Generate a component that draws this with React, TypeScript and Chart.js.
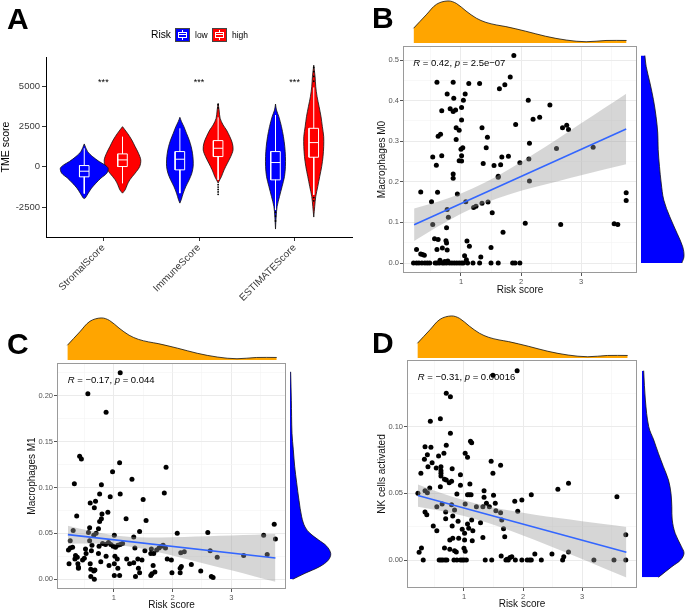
import React, { useEffect, useRef } from "react";
import { Chart, registerables } from "chart.js";

Chart.register(...registerables);

const FONT = "'Liberation Sans', Arial, Helvetica, sans-serif";
const BLUE = "#0000FF";
const RED = "#FF0000";
const ORANGE = "#FFA500";

/* ================= Panel A data ================= */
const tmeCategories = ["StromalScore", "ImmuneScore", "ESTIMATEScore"];
const tmeYTicks = [-2500, 0, 2500, 5000];
const tmeSig = ["***", "***", "***"];
const riskLevels = ["low", "high"];

// violin outlines: value (top -> bottom) and half-width (category units)
const stromalLowV = [1420, 947, 638, 329, 123, -82, -391, -700, -1008, -1317, -1626, -1934, -1960];
const stromalLowW = [0, 0.035, 0.087, 0.156, 0.215, 0.25, 0.236, 0.174, 0.122, 0.076, 0.042, 0.01, 0];
const stromalHighV = [2490, 2080, 1667, 1255, 844, 432, 21, -391, -803, -1111, -1420, -1626];
const stromalHighW = [0, 0.052, 0.097, 0.132, 0.167, 0.191, 0.18, 0.132, 0.076, 0.049, 0.028, 0];
const immuneLowV = [3066, 2799, 2490, 2079, 1667, 1255, 844, 432, 21, -391, -803, -1214, -1626, -2037, -2243];
const immuneLowW = [0, 0.017, 0.042, 0.069, 0.097, 0.118, 0.132, 0.139, 0.139, 0.125, 0.097, 0.0625, 0.035, 0.014, 0];
const immuneHighV = [3930, 3519, 3004, 2593, 2284, 1873, 1461, 1050, 638, 226, -185, -597, -803, -1000];
const immuneHighW = [0, 0.01, 0.021, 0.052, 0.087, 0.122, 0.149, 0.156, 0.132, 0.097, 0.0625, 0.035, 0.017, 0];
const estimateLowV = [3890, 3519, 3107, 2490, 1873, 1255, 638, 21, -597, -1214, -1832, -2449, -3066, -3848];
const estimateLowW = [0, 0.01, 0.035, 0.0625, 0.083, 0.097, 0.104, 0.104, 0.094, 0.069, 0.042, 0.017, 0.007, 0];
const estimateHighV = [6297, 5577, 4960, 4342, 3725, 3107, 2490, 1873, 1255, 638, 21, -597, -1214, -1832, -2449, -3107];
const estimateHighW = [0, 0.014, 0.021, 0.035, 0.056, 0.076, 0.09, 0.104, 0.104, 0.097, 0.083, 0.0625, 0.042, 0.021, 0.01, 0];

// boxplot stats per category (low / high)
const boxLowQ1 = [-617, -185, -803];
const boxLowMed = [-268, 473, 268];
const boxLowQ3 = [82, 947, 947];
const boxLowWhiskLo = [-1650, -1626, -2655];
const boxLowWhiskHi = [1150, 2387, 3210];
const boxHighQ1 = [21, 638, 597];
const boxHighMed = [432, 1152, 1502];
const boxHighQ3 = [803, 1626, 2387];
const boxHighWhiskLo = [-1008, -803, -1729];
const boxHighWhiskHi = [1873, 3066, 4918];
const outliersLow = [[], [], [-2800, -3050, -3350]];
const outliersHigh = [[], [3650, 3850, -1100, -1250, -1400, -1550, -1700], [5300, 5600, 5900, 6150, -1900, -2100]];

/* ================= Scatter panels data ================= */
const riskTicks = [1, 2, 3];
const riskMinor = [0.5, 1.5, 2.5, 3.5];
const riskMin = 0.035;
const riskMax = 3.93;

// marginal density of risk score (shared by B, C, D)
const riskDensX = [0.21, 0.42, 0.59, 0.78, 0.92, 1.08, 1.25, 1.41, 1.58, 1.74, 2.07, 2.4, 2.74, 3.07, 3.4, 3.74];
const riskDensY = [0.35, 0.67, 0.92, 1.0, 0.94, 0.76, 0.59, 0.49, 0.43, 0.39, 0.28, 0.16, 0.07, 0.03, 0.06, 0.06];

// regression fit + confidence band
const fitX = [0.22, 3.75];
const bandX = [0.22, 0.6, 1.0, 1.4, 1.8, 2.2, 2.6, 3.0, 3.4, 3.75];

// ---- B: Macrophages M0
const bYTicks = [0, 0.1, 0.2, 0.3, 0.4, 0.5];
const bYMinor = [0.05, 0.15, 0.25, 0.35, 0.45];
const bStats = ["0.42", "2.5e\u221207"];
const bFit = [0.094, 0.33];
const bBandLo = [0.054, 0.0885, 0.1215, 0.148, 0.169, 0.186, 0.201, 0.216, 0.231, 0.243];
const bBandHi = [0.134, 0.15, 0.171, 0.198, 0.231, 0.267, 0.305, 0.344, 0.383, 0.417];
const bDensV = [0.511, 0.484, 0.443, 0.402, 0.361, 0.32, 0.279, 0.238, 0.197, 0.155, 0.114, 0.073, 0.04, 0.016, 0];
const bDensW = [0.09, 0.12, 0.21, 0.29, 0.35, 0.39, 0.4, 0.43, 0.47, 0.53, 0.67, 0.84, 0.97, 1.0, 0.95];
const bPoints = [
  [1.88, 0.511], [0.6, 0.445], [0.87, 0.445], [1.13, 0.442], [1.31, 0.442], [1.82, 0.458], [1.73, 0.439],
  [1.64, 0.429], [0.77, 0.416], [1.07, 0.416], [0.88, 0.406], [1.04, 0.401], [2.12, 0.401], [2.48, 0.389],
  [1.01, 0.383], [0.68, 0.375], [0.82, 0.38], [0.87, 0.373], [0.91, 0.377], [2.2, 0.354], [2.31, 0.359],
  [1.01, 0.352], [1.91, 0.341], [2.76, 0.339], [2.69, 0.333], [2.79, 0.329], [1.35, 0.333], [0.92, 0.333],
  [0.97, 0.327], [0.62, 0.312], [0.66, 0.317], [1.44, 0.31], [0.92, 0.304], [2.14, 0.295], [3.2, 0.285],
  [2.59, 0.282], [1.03, 0.284], [1.0, 0.28], [1.42, 0.284], [0.53, 0.261], [0.68, 0.264], [1.01, 0.264],
  [1.68, 0.261], [1.79, 0.263], [2.13, 0.256], [0.97, 0.252], [1.01, 0.251], [0.59, 0.241], [1.37, 0.245],
  [1.55, 0.24], [1.66, 0.242], [1.98, 0.247], [0.87, 0.219], [0.87, 0.209], [1.62, 0.214], [1.62, 0.211],
  [2.14, 0.202], [0.33, 0.175], [0.61, 0.174], [0.94, 0.17], [3.75, 0.173], [3.75, 0.154], [0.51, 0.151],
  [1.08, 0.151], [1.35, 0.147], [1.45, 0.15], [1.25, 0.14], [1.21, 0.137], [0.77, 0.132], [1.52, 0.124],
  [0.79, 0.113], [0.53, 0.095], [2.07, 0.098], [2.66, 0.095], [3.55, 0.097], [3.61, 0.095], [0.76, 0.087],
  [1.7, 0.076], [0.56, 0.06], [0.62, 0.058], [0.75, 0.055], [0.76, 0.049], [1.1, 0.054], [1.14, 0.041],
  [1.5, 0.038], [0.26, 0.033], [0.6, 0.033], [0.69, 0.037], [0.77, 0.032], [0.36, 0.021], [0.39, 0.019],
  [0.33, 0.022], [1.06, 0.018], [1.33, 0.015], [1.09, 0.008], [0.65, 0.007], [0.73, 0.004], [0.78, 0.005],
  [0.21, 0], [0.26, 0], [0.3, 0], [0.35, 0], [0.4, 0], [0.44, 0], [0.48, 0], [0.57, 0], [0.6, 0], [0.64, 0],
  [0.69, 0], [0.72, 0], [0.76, 0], [0.81, 0], [0.85, 0], [0.89, 0], [0.93, 0], [0.97, 0], [1.01, 0], [1.04, 0],
  [1.11, 0], [1.2, 0], [1.31, 0], [1.5, 0], [1.62, 0], [1.86, 0], [1.9, 0], [1.98, 0],
];

// ---- C: Macrophages M1
const cYTicks = [0, 0.05, 0.1, 0.15, 0.2];
const cYMinor = [0.025, 0.075, 0.125, 0.175, 0.225];
const cStats = ["\u22120.17", "0.044"];
const cFit = [0.0486, 0.0232];
const cBandLo = [0.0388, 0.039, 0.038, 0.0344, 0.0289, 0.0227, 0.0162, 0.0097, 0.003, -0.0028];
const cBandHi = [0.0584, 0.0528, 0.048, 0.0458, 0.0456, 0.0461, 0.0468, 0.0476, 0.0484, 0.0492];
const cDensV = [0.226, 0.195, 0.159, 0.141, 0.123, 0.105, 0.086, 0.068, 0.057, 0.05, 0.043, 0.036, 0.028, 0.021, 0.014, 0.0065, 0];
const cDensW = [0.016, 0.033, 0.049, 0.082, 0.115, 0.164, 0.221, 0.287, 0.369, 0.492, 0.697, 0.902, 1.0, 0.943, 0.738, 0.369, 0.066];
const cPoints = [
  [1.11, 0.225], [0.56, 0.202], [0.87, 0.182], [0.42, 0.134], [0.45, 0.131], [1.1, 0.127], [1.89, 0.122],
  [0.98, 0.117], [1.31, 0.109], [0.33, 0.104], [0.79, 0.103], [1.86, 0.094], [0.76, 0.093], [1.11, 0.093],
  [0.94, 0.09], [1.5, 0.087], [0.69, 0.085], [0.6, 0.083], [0.67, 0.078], [0.9, 0.073], [0.8, 0.071],
  [0.37, 0.069], [1.21, 0.066], [0.79, 0.066], [0.76, 0.063], [1.55, 0.064], [0.74, 0.055], [0.59, 0.056],
  [3.73, 0.06], [0.31, 0.053], [1.44, 0.052], [2.6, 0.051], [0.57, 0.051], [2.08, 0.05], [3.55, 0.048],
  [1.01, 0.048], [1.34, 0.046], [3.75, 0.044], [0.26, 0.042], [0.59, 0.042], [0.66, 0.048], [0.7, 0.05],
  [0.63, 0.037], [0.75, 0.036], [0.81, 0.039], [0.86, 0.038], [0.91, 0.04], [0.95, 0.038], [0.99, 0.036],
  [1.03, 0.035], [1.07, 0.037], [1.11, 0.038], [1.15, 0.039], [1.64, 0.033], [1.68, 0.028], [1.73, 0.032],
  [1.77, 0.034], [1.81, 0.036], [1.84, 0.037], [1.88, 0.034], [0.26, 0.034], [0.23, 0.032], [0.3, 0.035],
  [0.52, 0.033], [0.62, 0.031], [2.64, 0.031], [2.2, 0.03], [2.14, 0.029], [1.36, 0.034], [1.53, 0.031],
  [1.63, 0.028], [0.35, 0.026], [0.53, 0.028], [0.74, 0.028], [0.87, 0.025], [1.02, 0.025], [1.06, 0.022],
  [1.22, 0.022], [1.41, 0.022], [3.21, 0.026], [3.61, 0.027], [2.76, 0.024], [0.34, 0.022], [0.38, 0.024],
  [0.47, 0.021], [0.5, 0.023], [1.91, 0.022], [1.98, 0.021], [1.48, 0.021], [0.24, 0.017], [0.39, 0.017],
  [0.6, 0.017], [0.78, 0.019], [0.92, 0.015], [1.01, 0.017], [1.07, 0.012], [1.27, 0.017], [2.32, 0.016],
  [1.34, 0.018], [0.4, 0.013], [0.4, 0.012], [0.61, 0.011], [0.66, 0.009], [0.68, 0.01], [1.67, 0.015],
  [2.13, 0.012], [2.15, 0.014], [1.42, 0.012], [2.48, 0.009], [1.44, 0.007], [1.7, 0.008], [1.99, 0.007],
  [2.13, 0.007], [1.01, 0.004], [1.1, 0.004], [1.37, 0.003], [1.63, 0.004], [1.65, 0.006], [0.61, 0.003],
  [0.67, 0], [2.66, 0.003], [2.69, 0.002],
];

// ---- D: NK cells activated
const dYTicks = [0, 0.05, 0.1];
const dYMinor = [0.025, 0.075, 0.125];
const dStats = ["\u22120.31", "0.00016"];
const dFit = [0.0483, 0.0058];
const dBandLo = [0.0399, 0.0369, 0.033, 0.0279, 0.0217, 0.015, 0.0079, 0.0007, -0.0068, -0.0132];
const dBandHi = [0.0567, 0.0505, 0.0448, 0.0403, 0.0369, 0.034, 0.0315, 0.0291, 0.0268, 0.0248];
const dDensV = [0.142, 0.12, 0.1, 0.09, 0.08, 0.07, 0.06, 0.05, 0.04, 0.03, 0.02, 0.01, 0.005, 0, -0.005, -0.013];
const dDensW = [0.04, 0.08, 0.16, 0.28, 0.39, 0.51, 0.63, 0.69, 0.71, 0.72, 0.79, 0.94, 1.0, 0.92, 0.71, 0.39];
const dPoints = [
  [1.9, 0.142], [1.49, 0.1385], [0.7, 0.125], [0.77, 0.1225], [0.6, 0.106], [0.43, 0.104], [0.77, 0.095],
  [1.11, 0.089], [1.13, 0.088], [0.34, 0.085], [0.44, 0.0845], [0.7, 0.086], [0.66, 0.08], [1.02, 0.08],
  [0.38, 0.079], [0.57, 0.078], [1.06, 0.077], [0.33, 0.0755], [1.46, 0.074], [1.62, 0.071], [0.39, 0.07],
  [0.61, 0.07], [0.46, 0.073], [0.53, 0.069], [0.8, 0.0685], [0.61, 0.067], [0.61, 0.065], [0.27, 0.065],
  [1.49, 0.065], [0.61, 0.063], [0.94, 0.064], [0.67, 0.0605], [0.7, 0.06], [0.79, 0.059], [0.75, 0.058],
  [2.77, 0.0575], [1.1, 0.057], [0.94, 0.056], [0.42, 0.054], [0.6, 0.055], [1.34, 0.052], [2.59, 0.053],
  [0.34, 0.052], [0.38, 0.0505], [0.22, 0.05], [0.88, 0.0495], [1.06, 0.049], [1.09, 0.049], [1.12, 0.049],
  [1.5, 0.0485], [2.14, 0.049], [1.98, 0.045], [1.86, 0.044], [3.59, 0.0475], [1.34, 0.047], [1.38, 0.0425],
  [1.53, 0.0425], [1.02, 0.042], [0.63, 0.042], [0.79, 0.0415], [0.54, 0.04], [1.21, 0.04], [1.32, 0.04],
  [1.43, 0.04], [0.84, 0.0375], [1.54, 0.037], [1.91, 0.0365], [1.62, 0.0355], [0.69, 0.036], [0.34, 0.036],
  [0.37, 0.034], [0.81, 0.033], [0.69, 0.031], [0.9, 0.029], [1.13, 0.03], [1.64, 0.03], [1.06, 0.027],
  [1.28, 0.028], [0.48, 0.0255], [0.8, 0.0255], [1.08, 0.0238], [1.67, 0.0235], [0.97, 0.023], [0.54, 0.022],
  [1.15, 0.022], [1.01, 0.02], [1.69, 0.0175], [1.32, 0.0168], [0.81, 0.0163], [0.91, 0.0163], [0.76, 0.015],
  [1.14, 0.0145], [1.01, 0.015], [3.74, 0.019], [0.67, 0.009], [0.28, 0.009], [2.77, 0.006], [0.24, 0.0058],
  [1.0, 0.0088], [0.76, 0.008], [0.84, 0.007], [0.87, 0.006], [1.02, 0.0065], [1.63, 0.003], [2.2, 0.0045],
  [2.49, 0.0045], [2.69, 0.0025], [1.81, 0.0025], [1.78, 0.0018], [1.73, 0.0005],
  [0.31, 0], [0.58, 0], [0.61, 0], [0.64, 0], [0.68, 0], [0.71, 0], [0.83, 0], [0.88, 0], [0.94, 0], [0.97, 0],
  [1.0, 0], [1.04, 0], [1.36, 0], [1.47, 0], [1.71, 0], [1.75, 0], [1.87, 0], [1.98, 0], [2.07, 0], [2.11, 0],
  [2.14, 0], [2.31, 0], [2.67, 0], [3.2, 0], [3.54, 0], [3.74, 0],
];

/* ================= layout constants ================= */
const DODGE = 0.2;
const BOX_HW = 0.05;
const SIG_Y = 5250;

const baseOptions = {
  animation: false,
  responsive: false,
  events: [],
  plugins: { legend: { display: false }, tooltip: { enabled: false } },
};

/* ---------- plugins ---------- */
const panelBorderPlugin = {
  id: "panelBorder",
  afterDatasetsDraw(chart: any) {
    const { ctx, chartArea } = chart;
    ctx.save();
    ctx.strokeStyle = "#9a9a9a";
    ctx.lineWidth = 1;
    ctx.strokeRect(
      Math.round(chartArea.left) + 0.5,
      Math.round(chartArea.top) + 0.5,
      Math.round(chartArea.right - chartArea.left) - 1,
      Math.round(chartArea.bottom - chartArea.top) - 1
    );
    ctx.restore();
  },
};

const statPlugin = {
  id: "stat",
  beforeDatasetsDraw(chart: any, _args: any, opts: any) {
    if (!opts || opts.r === undefined) return;
    const { ctx, scales } = chart;
    let px = scales.x.getPixelForValue(opts.x);
    const py = scales.y.getPixelForValue(opts.y);
    const parts: [string, boolean][] = [
      ["R", true],
      [" = " + opts.r + ", ", false],
      ["p", true],
      [" = " + opts.p, false],
    ];
    ctx.save();
    ctx.fillStyle = "#000";
    ctx.textBaseline = "middle";
    ctx.textAlign = "left";
    for (const [t, it] of parts) {
      ctx.font = `${it ? "italic " : ""}9.5px ${FONT}`;
      ctx.fillText(t, px, py);
      px += ctx.measureText(t).width;
    }
    ctx.restore();
  },
};

const sigPlugin = {
  id: "sig",
  afterDatasetsDraw(chart: any) {
    const { ctx, scales } = chart;
    ctx.save();
    ctx.fillStyle = "#000";
    ctx.font = `9px ${FONT}`;
    ctx.textAlign = "center";
    ctx.textBaseline = "middle";
    tmeSig.forEach((s, i) => {
      ctx.fillText(s, scales.x.getPixelForValue(i + 1), scales.y.getPixelForValue(SIG_Y));
    });
    ctx.restore();
  },
};

/* ---------- configs ---------- */
function panelAConfig(): any {
  const datasets: any[] = [];
  const violins = [
    [stromalLowV, stromalLowW],
    [stromalHighV, stromalHighW],
    [immuneLowV, immuneLowW],
    [immuneHighV, immuneHighW],
    [estimateLowV, estimateLowW],
    [estimateHighV, estimateHighW],
  ];
  violins.forEach(([vals, ws], k) => {
    const cat = Math.floor(k / 2);
    const grp = k % 2;
    const c = cat + 1 + (grp ? DODGE : -DODGE);
    const right = vals.map((v, i) => ({ x: c + ws[i], y: v }));
    const left = vals.map((v, i) => ({ x: c - ws[i], y: v })).reverse();
    datasets.push({
      data: [...right, ...left],
      borderColor: "#111",
      borderWidth: 0.8,
      backgroundColor: grp ? RED : BLUE,
      fill: "shape",
      pointRadius: 0,
      tension: 0.3,
      order: 3,
    });
  });
  const outPts: any[] = [];
  tmeCategories.forEach((_, cat) => {
    [0, 1].forEach((grp) => {
      const c = cat + 1 + (grp ? DODGE : -DODGE);
      const q1 = grp ? boxHighQ1[cat] : boxLowQ1[cat];
      const med = grp ? boxHighMed[cat] : boxLowMed[cat];
      const q3 = grp ? boxHighQ3[cat] : boxLowQ3[cat];
      const wlo = grp ? boxHighWhiskLo[cat] : boxLowWhiskLo[cat];
      const whi = grp ? boxHighWhiskHi[cat] : boxLowWhiskHi[cat];
      const h = BOX_HW;
      datasets.push({
        data: [
          { x: c - h, y: q1 }, { x: c + h, y: q1 }, { x: c + h, y: q3 }, { x: c - h, y: q3 }, { x: c - h, y: q1 },
          { x: c, y: null },
          { x: c - h, y: med }, { x: c + h, y: med },
          { x: c, y: null },
          { x: c, y: q3 }, { x: c, y: whi },
          { x: c, y: null },
          { x: c, y: q1 }, { x: c, y: wlo },
        ],
        borderColor: "#fff",
        borderWidth: 1,
        fill: false,
        pointRadius: 0,
        spanGaps: false,
        order: 2,
      });
      const outs = grp ? outliersHigh[cat] : outliersLow[cat];
      outs.forEach((v) => outPts.push({ x: c, y: v }));
    });
  });
  datasets.push({
    data: outPts,
    showLine: false,
    pointRadius: 0.9,
    pointBackgroundColor: "#000",
    pointBorderWidth: 0,
    order: 1,
  });

  return {
    type: "line",
    data: { datasets },
    plugins: [sigPlugin],
    options: {
      ...baseOptions,
      layout: { padding: { top: 17, right: 3.5, left: 0, bottom: 0 } },
      scales: {
        x: {
          type: "linear",
          min: 0.4,
          max: 3.6,
          afterBuildTicks: (s: any) => {
            s.ticks = tmeCategories.map((_, i) => ({ value: i + 1 }));
          },
          afterFit: (s: any) => {
            s.height = 65;
          },
          ticks: {
            callback: (v: any) => tmeCategories[Math.round(v) - 1] ?? "",
            minRotation: 45,
            maxRotation: 45,
            autoSkip: false,
            font: { family: FONT, size: 10 },
            color: "#3a3a3a",
            padding: 1,
          },
          grid: { drawOnChartArea: false, drawTicks: true, tickLength: 4, tickColor: "#333", tickWidth: 1 },
          border: { display: true, color: "#000", width: 1 },
        },
        y: {
          type: "linear",
          min: -4340,
          max: 6800,
          afterBuildTicks: (s: any) => {
            s.ticks = tmeYTicks.map((v) => ({ value: v }));
          },
          afterFit: (s: any) => {
            s.width = 46;
          },
          ticks: {
            callback: (v: any) => String(v),
            font: { family: FONT, size: 9.5 },
            color: "#3a3a3a",
            padding: 2,
          },
          grid: { drawOnChartArea: false, drawTicks: true, tickLength: 4, tickColor: "#333", tickWidth: 1 },
          border: { display: true, color: "#000", width: 1 },
          title: {
            display: true,
            text: "TME score",
            font: { family: FONT, size: 10.5 },
            color: "#000",
            padding: { top: 0, bottom: 0 },
          },
        },
      },
    },
  };
}

function scatterConfig(o: any): any {
  const majorX = new Set(riskTicks);
  const majorY = new Set(o.yTicks);
  const allX = [...riskTicks, ...riskMinor].sort((a, b) => a - b);
  const allY = [...o.yTicks, ...o.yMinor].sort((a: number, b: number) => a - b);
  const gridCol = (set: Set<number>) => (ctx: any) =>
    ctx.tick && set.has(ctx.tick.value) ? "#EBEBEB" : "#F4F4F4";
  const tickCol = (set: Set<number>) => (ctx: any) =>
    ctx.tick && set.has(ctx.tick.value) ? "#555" : "rgba(0,0,0,0)";
  return {
    type: "line",
    data: {
      datasets: [
        {
          data: o.points.map((p: number[]) => ({ x: p[0], y: p[1] })),
          showLine: false,
          pointRadius: 2.5,
          pointBackgroundColor: "#000",
          pointBorderWidth: 0,
          order: 3,
        },
        {
          data: bandX.map((x, i) => ({ x, y: o.hi[i] })),
          borderWidth: 0,
          borderColor: "rgba(0,0,0,0)",
          pointRadius: 0,
          fill: "+1",
          backgroundColor: "rgba(153,153,153,0.4)",
          cubicInterpolationMode: "monotone",
          order: 2,
        },
        {
          data: bandX.map((x, i) => ({ x, y: o.lo[i] })),
          borderWidth: 0,
          borderColor: "rgba(0,0,0,0)",
          pointRadius: 0,
          fill: false,
          cubicInterpolationMode: "monotone",
          order: 2,
        },
        {
          data: fitX.map((x, i) => ({ x, y: o.fit[i] })),
          borderColor: "#3366FF",
          borderWidth: 1.6,
          pointRadius: 0,
          fill: false,
          order: 1,
        },
      ],
    },
    plugins: [statPlugin, panelBorderPlugin],
    options: {
      ...baseOptions,
      plugins: {
        ...baseOptions.plugins,
        stat: { x: o.annX, y: o.annY, r: o.stats[0], p: o.stats[1] },
      },
      layout: { padding: { top: o.padTop, right: o.padRight, left: 0, bottom: 0 } },
      scales: {
        x: {
          type: "linear",
          min: riskMin,
          max: riskMax,
          afterBuildTicks: (s: any) => {
            s.ticks = allX.map((v) => ({ value: v }));
          },
          afterFit: (s: any) => {
            s.height = o.xAxisHeight;
          },
          ticks: {
            autoSkip: false,
            maxRotation: 0,
            callback: (v: any) => (majorX.has(v) ? String(v) : ""),
            font: { family: FONT, size: 7.5 },
            color: "#555",
            padding: 1,
          },
          grid: {
            color: gridCol(majorX),
            lineWidth: (ctx: any) => (ctx.tick && majorX.has(ctx.tick.value) ? 1 : 0.6),
            drawTicks: true,
            tickLength: 3,
            tickColor: tickCol(majorX),
            tickWidth: 1,
          },
          border: { display: false },
          title: {
            display: true,
            text: "Risk score",
            font: { family: FONT, size: 10 },
            color: "#111",
            padding: { top: 0, bottom: o.xTitlePad },
          },
        },
        y: {
          type: "linear",
          min: o.yMin,
          max: o.yMax,
          afterBuildTicks: (s: any) => {
            s.ticks = allY.map((v: number) => ({ value: v }));
          },
          afterFit: (s: any) => {
            s.width = o.yAxisWidth;
          },
          ticks: {
            autoSkip: false,
            callback: (v: any) => (majorY.has(v) ? Number(v).toFixed(o.yDec) : ""),
            font: { family: FONT, size: 7.5 },
            color: "#555",
            padding: 1,
          },
          grid: {
            color: gridCol(majorY as Set<number>),
            lineWidth: (ctx: any) => (ctx.tick && majorY.has(ctx.tick.value) ? 1 : 0.6),
            drawTicks: true,
            tickLength: 3,
            tickColor: tickCol(majorY as Set<number>),
            tickWidth: 1,
          },
          border: { display: false },
          title: {
            display: true,
            text: o.yTitle,
            font: { family: FONT, size: 10 },
            color: "#111",
            padding: { top: o.yTitlePad, bottom: 0 },
          },
        },
      },
    },
  };
}

function topDensityConfig(): any {
  return {
    type: "line",
    data: {
      datasets: [
        {
          data: riskDensX.map((x, i) => ({ x, y: riskDensY[i] })),
          borderColor: "#111",
          borderWidth: 0.8,
          backgroundColor: ORANGE,
          fill: "origin",
          pointRadius: 0,
          tension: 0.35,
        },
      ],
    },
    options: {
      ...baseOptions,
      layout: { padding: 0 },
      scales: {
        x: { type: "linear", display: false, min: riskMin, max: riskMax },
        y: { type: "linear", display: false, min: 0, max: 1.07 },
      },
    },
  };
}

function rightDensityConfig(vals: number[], ws: number[], yMin: number, yMax: number, xMax: number): any {
  return {
    type: "line",
    data: {
      datasets: [
        {
          data: vals.map((v, i) => ({ x: ws[i], y: v })),
          indexAxis: "y",
          borderColor: "#111",
          borderWidth: 0.8,
          backgroundColor: BLUE,
          fill: "origin",
          pointRadius: 0,
          tension: 0.35,
        },
      ],
    },
    options: {
      ...baseOptions,
      indexAxis: "y",
      layout: { padding: 0 },
      scales: {
        x: { type: "linear", display: false, min: 0, max: xMax },
        y: { type: "linear", display: false, min: yMin, max: yMax },
      },
    },
  };
}

/* ---------- components ---------- */
function ChartBox(props: { left: number; top: number; width: number; height: number; make: () => any }) {
  const ref = useRef<HTMLCanvasElement>(null);
  useEffect(() => {
    const chart = new Chart(ref.current as HTMLCanvasElement, props.make());
    return () => chart.destroy();
  }, []);
  return (
    <canvas
      ref={ref}
      width={props.width}
      height={props.height}
      style={{ position: "absolute", left: props.left, top: props.top, width: props.width, height: props.height }}
    />
  );
}

function LegendKey(props: { color: string; left: number }) {
  const c = props.color;
  return (
    <div
      style={{
        position: "absolute",
        left: props.left,
        top: 28,
        width: 15,
        height: 14,
        background: c,
        boxSizing: "border-box",
        border: "1px solid #444",
      }}
    >
      <div style={{ position: "absolute", left: 6, top: 1, width: 1, height: 10, background: "#fff" }} />
      <div
        style={{
          position: "absolute",
          left: 2,
          top: 3,
          width: 9,
          height: 6,
          border: "1px solid #fff",
          boxSizing: "border-box",
          background: c,
        }}
      />
      <div style={{ position: "absolute", left: 2, top: 5, width: 9, height: 1, background: "#fff" }} />
    </div>
  );
}

const letterStyle = (left: number, top: number): any => ({
  position: "absolute",
  left,
  top,
  font: `bold 30px ${FONT}`,
  lineHeight: "30px",
  color: "#000",
});

export default function App() {
  return (
    <div
      style={{
        position: "absolute",
        left: 0,
        top: 0,
        width: 685,
        height: 611,
        background: "#fff",
        overflow: "hidden",
        fontFamily: FONT,
      }}
    >
      {/* Panel A */}
      <ChartBox left={0} top={40} width={356} height={262} make={panelAConfig} />
      <div style={{ position: "absolute", left: 151, top: 29, fontSize: 10.3, lineHeight: "12px", color: "#000" }}>Risk</div>
      <LegendKey color={BLUE} left={175} />
      <div style={{ position: "absolute", left: 195, top: 29.5, fontSize: 8.5, lineHeight: "11px", color: "#000" }}>{riskLevels[0]}</div>
      <LegendKey color={RED} left={212} />
      <div style={{ position: "absolute", left: 232, top: 29.5, fontSize: 8.5, lineHeight: "11px", color: "#000" }}>{riskLevels[1]}</div>

      {/* Panel B */}
      <ChartBox left={403} top={-2} width={235} height={45} make={topDensityConfig} />
      <ChartBox
        left={345}
        top={40}
        width={296}
        height={260}
        make={() =>
          scatterConfig({
            points: bPoints, fit: bFit, lo: bBandLo, hi: bBandHi,
            yTicks: bYTicks, yMinor: bYMinor, yDec: 1, yMin: -0.0246, yMax: 0.5345,
            yTitle: "Macrophages M0", stats: bStats, annX: 0.205, annY: 0.4926,
            padTop: 6, padRight: 3, yAxisWidth: 58, xAxisHeight: 27, yTitlePad: 31, xTitlePad: 4,
          })
        }
      />
      <ChartBox left={641} top={46} width={45} height={227} make={() => rightDensityConfig(bDensV, bDensW, -0.0246, 0.5345, 1.047)} />

      {/* Panel C */}
      <ChartBox left={57} top={315} width={231} height={45} make={topDensityConfig} />
      <ChartBox
        left={0}
        top={355}
        width={290}
        height={256}
        make={() =>
          scatterConfig({
            points: cPoints, fit: cFit, lo: cBandLo, hi: cBandHi,
            yTicks: cYTicks, yMinor: cYMinor, yDec: 2, yMin: -0.0106, yMax: 0.2356,
            yTitle: "Macrophages M1", stats: cStats, annX: 0.217, annY: 0.217,
            padTop: 8, padRight: 2, yAxisWidth: 57, xAxisHeight: 22, yTitlePad: 26, xTitlePad: 0,
          })
        }
      />
      <ChartBox left={290} top={363} width={43} height={226} make={() => rightDensityConfig(cDensV, cDensW, -0.0106, 0.2356, 1.056)} />

      {/* Panel D */}
      <ChartBox left={407} top={313} width={232} height={45} make={topDensityConfig} />
      <ChartBox
        left={345}
        top={352}
        width={296}
        height={259}
        make={() =>
          scatterConfig({
            points: dPoints, fit: dFit, lo: dBandLo, hi: dBandHi,
            yTicks: dYTicks, yMinor: dYMinor, yDec: 2, yMin: -0.021, yMax: 0.15,
            yTitle: "NK cells activated", stats: dStats, annX: 0.217, annY: 0.137,
            padTop: 8, padRight: 2, yAxisWidth: 62, xAxisHeight: 23, yTitlePad: 31, xTitlePad: 1,
          })
        }
      />
      <ChartBox left={642} top={360} width={43} height={228} make={() => rightDensityConfig(dDensV, dDensW, -0.021, 0.15, 1.024)} />

      {/* panel letters */}
      <div style={letterStyle(7, 4)}>A</div>
      <div style={letterStyle(372, 3)}>B</div>
      <div style={letterStyle(7, 329)}>C</div>
      <div style={letterStyle(372, 328)}>D</div>
    </div>
  );
}
